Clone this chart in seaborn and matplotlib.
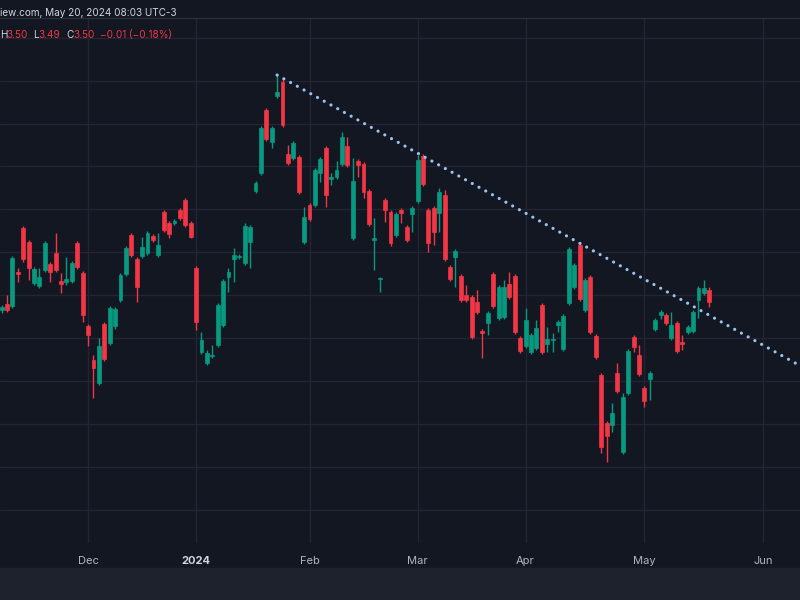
import pandas as pd
import seaborn as sns
import matplotlib.pyplot as plt
from matplotlib.patches import Rectangle

# -----------------------------
# Data (daily OHLC)
# -----------------------------
opens = [3.465, 3.479, 3.474, 3.554, 3.656, 3.624, 3.528, 3.521, 3.558, 3.572,
         3.598, 3.533, 3.530, 3.533, 3.621, 3.551, 3.428, 3.348, 3.295, 3.432,
         3.388, 3.428, 3.488, 3.549, 3.640, 3.584, 3.591, 3.598, 3.638, 3.593,
         3.693, 3.668, 3.668, 3.698, 3.721, 3.668, 3.563, 3.367, 3.341, 3.358,
         3.383, 3.430, 3.542, 3.584, 3.589, 3.575, 3.624, 3.742, 3.784, 3.931,
         3.857, 3.964, 3.997, 3.829, 3.819, 3.822, 3.624, 3.710, 3.710, 3.784,
         3.843, 3.770, 3.775, 3.805, 3.847, 3.633, 3.812, 3.805, 3.742, 3.628,
         3.537, 3.721, 3.693, 3.640, 3.698, 3.659, 3.689, 3.719, 3.824, 3.698,
         3.703, 3.691, 3.733, 3.565, 3.589, 3.544, 3.500, 3.495, 3.484, 3.416,
         3.435, 3.549, 3.446, 3.449, 3.526, 3.544, 3.400, 3.381, 3.367, 3.377,
         3.477, 3.386, 3.395, 3.430, 3.374, 3.481, 3.519, 3.617, 3.465, 3.542,
         3.404, 3.314, 3.202, 3.197, 3.318, 3.134, 3.272, 3.402, 3.360, 3.283,
         3.304, 3.421, 3.453, 3.453, 3.400, 3.435, 3.390, 3.414, 3.416, 3.488,
         3.505, 3.512]
highs = [3.477, 3.500, 3.591, 3.563, 3.661, 3.628, 3.565, 3.563, 3.626, 3.577,
         3.645, 3.551, 3.589, 3.579, 3.626, 3.556, 3.432, 3.360, 3.400, 3.437,
         3.474, 3.472, 3.551, 3.614, 3.645, 3.589, 3.635, 3.649, 3.642, 3.645,
         3.698, 3.672, 3.677, 3.703, 3.726, 3.672, 3.568, 3.414, 3.372, 3.383,
         3.481, 3.537, 3.563, 3.610, 3.596, 3.668, 3.663, 3.766, 3.894, 3.936,
         3.894, 4.013, 4.004, 3.850, 3.859, 3.826, 3.705, 3.714, 3.796, 3.822,
         3.847, 3.784, 3.812, 3.880, 3.868, 3.819, 3.817, 3.810, 3.747, 3.679,
         3.542, 3.726, 3.698, 3.693, 3.703, 3.663, 3.707, 3.826, 3.829, 3.703,
         3.707, 3.749, 3.745, 3.570, 3.607, 3.549, 3.523, 3.500, 3.512, 3.421,
         3.463, 3.554, 3.523, 3.535, 3.554, 3.549, 3.404, 3.470, 3.411, 3.442,
         3.481, 3.425, 3.411, 3.442, 3.456, 3.612, 3.575, 3.624, 3.540, 3.547,
         3.409, 3.318, 3.206, 3.248, 3.341, 3.272, 3.374, 3.407, 3.383, 3.288,
         3.323, 3.446, 3.465, 3.458, 3.460, 3.439, 3.407, 3.430, 3.465, 3.521,
         3.535, 3.519]
lows = [3.458, 3.460, 3.470, 3.530, 3.577, 3.535, 3.523, 3.516, 3.554, 3.530,
        3.554, 3.505, 3.523, 3.528, 3.561, 3.437, 3.381, 3.260, 3.290, 3.346,
        3.383, 3.421, 3.484, 3.544, 3.589, 3.484, 3.586, 3.593, 3.624, 3.589,
        3.647, 3.633, 3.663, 3.675, 3.659, 3.633, 3.418, 3.362, 3.337, 3.353,
        3.379, 3.425, 3.507, 3.530, 3.584, 3.570, 3.563, 3.738, 3.780, 3.859,
        3.843, 3.959, 3.892, 3.803, 3.815, 3.735, 3.619, 3.672, 3.705, 3.763,
        3.705, 3.756, 3.770, 3.801, 3.798, 3.628, 3.775, 3.726, 3.661, 3.558,
        3.507, 3.670, 3.614, 3.635, 3.668, 3.624, 3.647, 3.714, 3.754, 3.600,
        3.617, 3.647, 3.579, 3.533, 3.519, 3.484, 3.484, 3.397, 3.456, 3.353,
        3.407, 3.470, 3.442, 3.444, 3.491, 3.409, 3.365, 3.377, 3.362, 3.372,
        3.362, 3.367, 3.367, 3.414, 3.369, 3.477, 3.514, 3.486, 3.460, 3.409,
        3.351, 3.132, 3.111, 3.181, 3.272, 3.129, 3.267, 3.367, 3.311, 3.239,
        3.255, 3.416, 3.444, 3.430, 3.395, 3.365, 3.372, 3.409, 3.411, 3.446,
        3.500, 3.472]
closes = [3.472, 3.465, 3.586, 3.549, 3.584, 3.563, 3.561, 3.542, 3.621, 3.554,
          3.558, 3.526, 3.537, 3.575, 3.565, 3.453, 3.407, 3.330, 3.381, 3.351,
          3.470, 3.467, 3.547, 3.610, 3.593, 3.519, 3.612, 3.645, 3.628, 3.617,
          3.652, 3.642, 3.672, 3.679, 3.663, 3.635, 3.437, 3.395, 3.365, 3.360,
          3.477, 3.533, 3.554, 3.593, 3.591, 3.661, 3.659, 3.761, 3.889, 3.864,
          3.889, 3.973, 3.896, 3.808, 3.854, 3.740, 3.682, 3.677, 3.791, 3.817,
          3.733, 3.775, 3.791, 3.868, 3.803, 3.766, 3.803, 3.740, 3.666, 3.633,
          3.540, 3.698, 3.621, 3.689, 3.691, 3.628, 3.703, 3.815, 3.759, 3.621,
          3.647, 3.740, 3.584, 3.537, 3.603, 3.488, 3.488, 3.402, 3.460, 3.411,
          3.458, 3.474, 3.519, 3.519, 3.495, 3.414, 3.369, 3.442, 3.407, 3.423,
          3.367, 3.397, 3.397, 3.437, 3.451, 3.607, 3.570, 3.491, 3.535, 3.414,
          3.355, 3.146, 3.171, 3.225, 3.276, 3.262, 3.369, 3.379, 3.316, 3.253,
          3.318, 3.442, 3.460, 3.435, 3.430, 3.369, 3.386, 3.425, 3.460, 3.516,
          3.516, 3.484]

# US trading sessions, first candle 2023-11-08
holidays = ["2023-11-23", "2023-12-25", "2024-01-01", "2024-01-15",
            "2024-02-19", "2024-03-29", "2024-05-27"]
sessions = pd.bdate_range("2023-11-08", "2024-06-28", freq="C", holidays=holidays)

month_starts = ["2023-12-01", "2024-01-02", "2024-02-01", "2024-03-01",
                "2024-04-01", "2024-05-01", "2024-06-03"]
month_labels = ["Dec", "2024", "Feb", "Mar", "Apr", "May", "Jun"]

# trend line anchors (session index, price)
trend_x = [51, 148]
trend_y = [4.013, 3.334]

grid_prices = [3.0, 3.1, 3.2, 3.3, 3.4, 3.5, 3.6, 3.7, 3.8, 3.9, 4.0, 4.1]

# -----------------------------
# Style
# -----------------------------
BG = "#131722"
UP = "#089981"
DOWN = "#f23645"
GRID = "#232632"
TEXT = "#d1d4dc"

sns.set_theme(style="dark", rc={"axes.facecolor": BG, "figure.facecolor": BG})
plt.rcParams["font.family"] = ["Inter", "DejaVu Sans"]

fig = plt.figure(figsize=(8, 6), dpi=100)
ax = fig.add_axes([0, 57 / 600, 1, 525 / 600])
ax.set_facecolor(BG)

df = pd.DataFrame({"open": opens, "high": highs, "low": lows, "close": closes})
df["date"] = sessions[:len(df)]
df["x"] = range(len(df))
df["up"] = df["close"] >= df["open"]
df["color"] = df["up"].map({True: UP, False: DOWN})

# grid
for p in grid_prices:
    ax.axhline(p, color=GRID, lw=1, zorder=0)
tick_pos = [sessions.get_loc(pd.Timestamp(d)) for d in month_starts]
for t in tick_pos:
    ax.axvline(t, color=GRID, lw=1, zorder=0)

# candles
ax.vlines(df["x"], df["low"], df["high"], colors=df["color"], lw=1.0, zorder=2)
body_low = df[["open", "close"]].min(axis=1)
body_h = (df["close"] - df["open"]).abs()
ax.bar(df["x"], body_h, bottom=body_low, width=0.72, color=df["color"],
       edgecolor=df["color"], linewidth=0.5, zorder=3)

# dotted trend line
sns.lineplot(x=trend_x, y=trend_y, ax=ax, color="#9cc3ee", lw=2.3,
             linestyle=(0, (0.01, 2.4)), dash_capstyle="round", zorder=4)

ax.set_xlim(-0.3, 147.8)
ax.set_ylim(2.922, 4.146)
ax.set_yticks([])
ax.set_xticks(tick_pos)
ax.set_xticklabels(month_labels)
ax.tick_params(axis="x", length=0, pad=9, labelsize=8, labelcolor="#b2b5be")
ax.get_xticklabels()[1].set_fontweight("bold")
ax.get_xticklabels()[1].set_color(TEXT)
for side in ["left", "right", "bottom"]:
    ax.spines[side].set_visible(False)
ax.spines["top"].set_color("#2a2e39")
ax.spines["top"].set_linewidth(1)

# bottom toolbar band
fig.patches.append(Rectangle((0, 0), 1, 32 / 600, transform=fig.transFigure,
                             color="#1e222d", zorder=0))

# header text
fig.text(0.0, 1 - 13 / 600, "iew.com, May 20, 2024 08:03 UTC-3",
         color=TEXT, fontsize=7.2, va="center", ha="left")
legend_parts = [("H", 0.5, TEXT), ("3.50", 6.5, DOWN), ("L", 33, TEXT),
                ("3.49", 38.5, DOWN), ("C", 66, TEXT), ("3.50", 73, DOWN),
                ("\u22120.01 (\u22120.18%)", 100, DOWN)]
for txt, px, col in legend_parts:
    fig.text(px / 800, 1 - 35 / 600, txt, color=col, fontsize=7.2,
             va="center", ha="left")

plt.savefig("out.png", dpi=100, facecolor=BG)
plt.close()
